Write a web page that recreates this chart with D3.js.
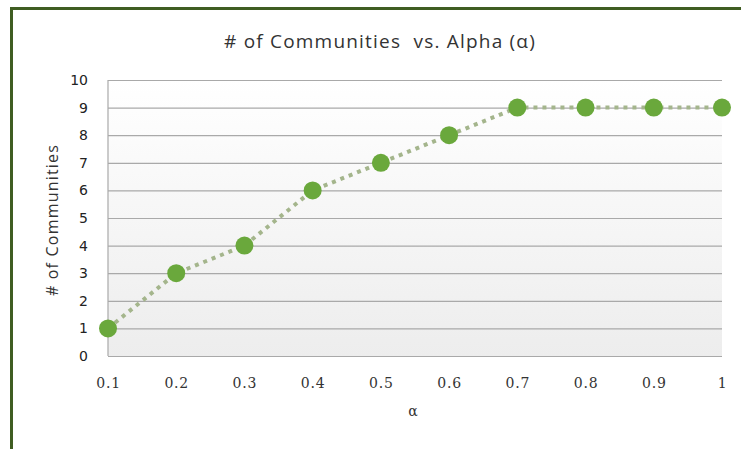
<!DOCTYPE html>
<html>
<head>
<meta charset="utf-8">
<script src="https://cdn.jsdelivr.net/npm/d3@7"></script>
<style>
  html, body { margin: 0; padding: 0; background: #fff; }
  svg { display: block; }
</style>
</head>
<body>
<svg id="chart" width="741" height="449"></svg>
<script>
// Number of detected communities for each alpha setting
const alphas = [0.1, 0.2, 0.3, 0.4, 0.5, 0.6, 0.7, 0.8, 0.9, 1];
const communities = [1, 3, 4, 6, 7, 8, 9, 9, 9, 9];
const xTickLabels = ["0.1", "0.2", "0.3", "0.4", "0.5", "0.6", "0.7", "0.8", "0.9", "1"];
const yTicks = [0, 1, 2, 3, 4, 5, 6, 7, 8, 9, 10];

const svg = d3.select("#chart");
const W = 741, H = 449;
const plot = { left: 108, right: 722, top: 80, bottom: 356 };

// Frame: dark green top and left rule
svg.append("rect").attr("x", 10).attr("y", 7).attr("width", W - 10).attr("height", 3).attr("fill", "#3f5d22");
svg.append("rect").attr("x", 10).attr("y", 7).attr("width", 3).attr("height", H - 7).attr("fill", "#3f5d22");

const x = d3.scalePoint().domain(alphas).range([plot.left, plot.right]);
const y = d3.scaleLinear().domain([0, 10]).range([plot.bottom, plot.top]);

// Plot background: soft white-to-grey gradient
const defs = svg.append("defs");
const grad = defs.append("linearGradient").attr("id", "bg").attr("x1", 0).attr("y1", 0).attr("x2", 0).attr("y2", 1);
grad.append("stop").attr("offset", "0%").attr("stop-color", "#ffffff");
grad.append("stop").attr("offset", "100%").attr("stop-color", "#ededed");
svg.append("rect")
  .attr("x", plot.left).attr("y", plot.top)
  .attr("width", plot.right - plot.left).attr("height", plot.bottom - plot.top)
  .attr("fill", "url(#bg)");

// Horizontal gridlines
const yAxis = d3.axisLeft(y).tickValues(yTicks).tickSize(-(plot.right - plot.left)).tickPadding(20).tickFormat(d3.format("d"));
const gy = svg.append("g").attr("transform", `translate(${plot.left},0)`).call(yAxis);
gy.select(".domain").remove();
gy.selectAll(".tick line").attr("stroke", "#a9a9a9").attr("stroke-width", 1.2);
gy.selectAll(".tick text")
  .attr("fill", "#222").attr("font-family", "'DejaVu Sans', sans-serif").attr("font-size", 14);

// Left edge of plot area
svg.append("line").attr("x1", plot.left).attr("x2", plot.left).attr("y1", plot.top).attr("y2", plot.bottom)
  .attr("stroke", "#a9a9a9").attr("stroke-width", 1.2);

// X axis labels
const xAxis = d3.axisBottom(x).tickValues(alphas).tickSize(0).tickPadding(22).tickFormat((d, i) => xTickLabels[i]);
const gx = svg.append("g").attr("transform", `translate(0,${plot.bottom})`).call(xAxis);
gx.select(".domain").remove();
gx.selectAll(".tick text")
  .attr("fill", "#333").attr("font-family", "'DejaVu Serif', serif").attr("font-size", 14)
  .attr("letter-spacing", 0.8);

// Dotted connecting line
const line = d3.line().x((d, i) => x(alphas[i])).y(d => y(d));
svg.append("path").datum(communities)
  .attr("d", line)
  .attr("fill", "none")
  .attr("stroke", "#a4b58c")
  .attr("stroke-width", 4)
  .attr("stroke-dasharray", "4,5");

// Markers
svg.append("g").selectAll("circle").data(communities).join("circle")
  .attr("cx", (d, i) => x(alphas[i]))
  .attr("cy", d => y(d))
  .attr("r", 9)
  .attr("fill", "#6aa83c");

// Title
svg.append("text").attr("x", 380).attr("y", 48).attr("text-anchor", "middle")
  .attr("font-family", "'Open Sans', 'DejaVu Sans', sans-serif").attr("font-size", 19).attr("fill", "#333")
  .attr("letter-spacing", 1.2)
  .attr("xml:space", "preserve")
  .text("# of Communities  vs. Alpha (α)");

// Axis titles
svg.append("text").attr("transform", "translate(58,220) rotate(-90)").attr("text-anchor", "middle")
  .attr("font-family", "'Open Sans', 'DejaVu Sans', sans-serif").attr("font-size", 16).attr("fill", "#333")
  .attr("letter-spacing", 1.2)
  .text("# of Communities");
svg.append("text").attr("x", 413).attr("y", 416).attr("text-anchor", "middle")
  .attr("font-family", "'DejaVu Serif', serif").attr("font-size", 14).attr("fill", "#333")
  .text("α");
</script>
</body>
</html>
